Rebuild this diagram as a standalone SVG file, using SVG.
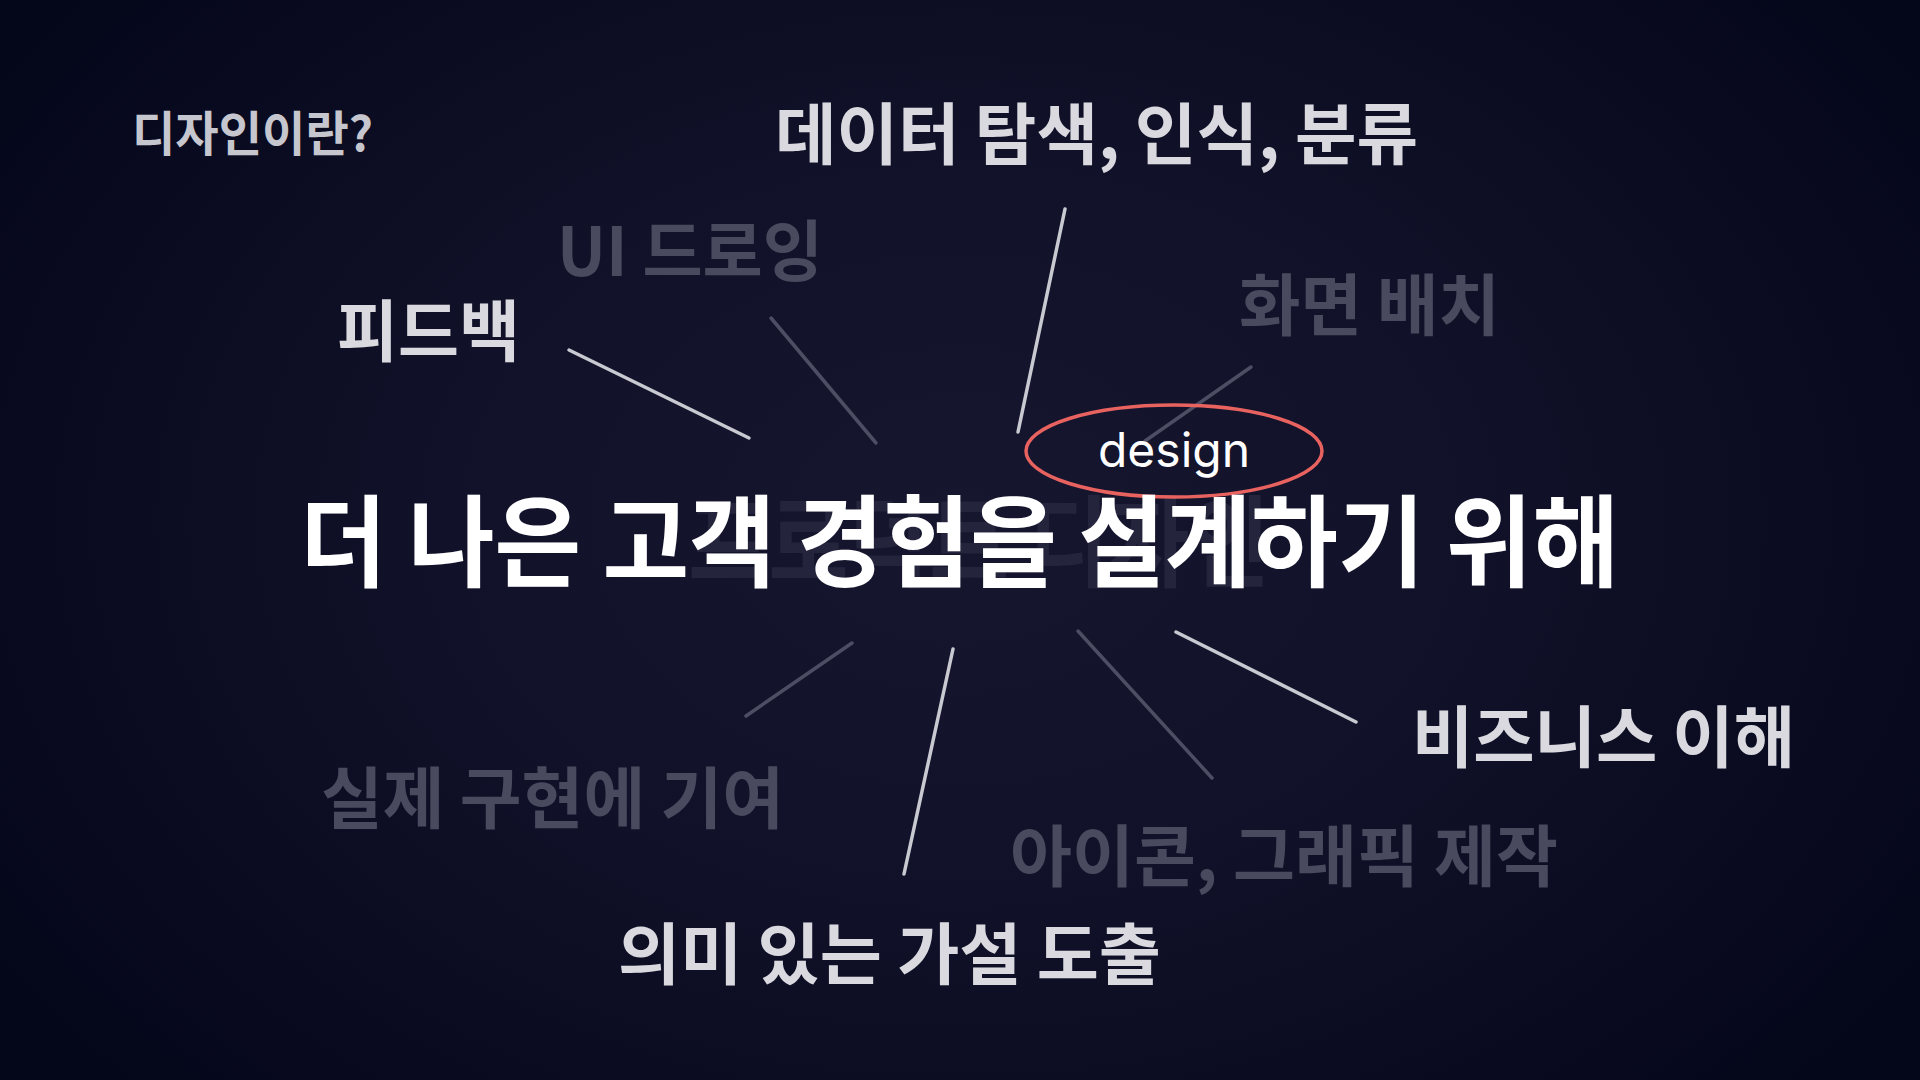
<svg xmlns="http://www.w3.org/2000/svg" width="1920" height="1080" viewBox="0 0 1920 1080">
  <defs>
    <radialGradient id="bg" cx="960" cy="520" r="1150" gradientUnits="userSpaceOnUse" gradientTransform="translate(960 520) scale(1 0.72) translate(-960 -520)">
      <stop offset="0" stop-color="#16162f"/>
      <stop offset="0.45" stop-color="#111229"/>
      <stop offset="1" stop-color="#04061a"/>
    </radialGradient>
  </defs>
  <style>
    .ko { font-family: "Noto Sans CJK KR", "Noto Sans", sans-serif; font-weight: 700; }
    .lt { fill: #d9d9df; }
    .fd { fill: #4a4a5f; }
    .ln-lt { stroke: #c9c9d1; stroke-width: 3.5; stroke-linecap: round; }
    .ln-fd { stroke: #4d4d63; stroke-width: 3.5; stroke-linecap: round; }
    .sec { font-size: 67px; }
  </style>
  <rect x="0" y="0" width="1920" height="1080" fill="url(#bg)"/>

  <g id="title">
    <text class="ko" x="132" y="151" font-size="48" fill="#c6c6ce" textLength="241" lengthAdjust="spacingAndGlyphs">디자인이란?</text>
  </g>

  <g id="ghost">
    <text class="ko" x="688" y="579" font-size="100" fill="#24243d" textLength="582" lengthAdjust="spacingAndGlyphs">프로덕트 디자인</text>
  </g>

  <g id="connectors">
    <line class="ln-lt" x1="569" y1="350" x2="749" y2="438"/>
    <line class="ln-fd" x1="771" y1="318" x2="876" y2="443"/>
    <line class="ln-lt" x1="1065" y1="209" x2="1018" y2="432"/>
    <line class="ln-fd" x1="1251" y1="367" x2="1145" y2="441"/>
    <line class="ln-fd" x1="852" y1="643" x2="746" y2="716"/>
    <line class="ln-lt" x1="953" y1="649" x2="904" y2="874"/>
    <line class="ln-fd" x1="1078" y1="631" x2="1212" y2="778"/>
    <line class="ln-lt" x1="1176" y1="632" x2="1356" y2="722"/>
  </g>

  <g id="node-data">
    <text class="ko lt sec" x="775" y="159" textLength="643" lengthAdjust="spacingAndGlyphs">데이터 탐색, 인식, 분류</text>
  </g>
  <g id="node-feedback">
    <text class="ko lt sec" x="337" y="356" textLength="183" lengthAdjust="spacingAndGlyphs">피드백</text>
  </g>
  <g id="node-ui">
    <text class="ko fd sec" x="557" y="276" textLength="266" lengthAdjust="spacingAndGlyphs">UI 드로잉</text>
  </g>
  <g id="node-layout">
    <text class="ko fd sec" x="1239" y="330" textLength="261" lengthAdjust="spacingAndGlyphs">화면 배치</text>
  </g>
  <g id="node-impl">
    <text class="ko fd sec" x="321" y="823" textLength="463" lengthAdjust="spacingAndGlyphs">실제 구현에 기여</text>
  </g>
  <g id="node-business">
    <text class="ko lt sec" x="1412" y="762" textLength="383" lengthAdjust="spacingAndGlyphs">비즈니스 이해</text>
  </g>
  <g id="node-icon">
    <text class="ko fd sec" x="1010" y="881" textLength="548" lengthAdjust="spacingAndGlyphs">아이콘, 그래픽 제작</text>
  </g>
  <g id="node-hypothesis">
    <text class="ko lt sec" x="618" y="979" textLength="543" lengthAdjust="spacingAndGlyphs">의미 있는 가설 도출</text>
  </g>

  <g id="node-design">
    <ellipse cx="1174" cy="451" rx="148" ry="46" fill="none" stroke="#e8625f" stroke-width="3.5"/>
    <text x="1174" y="467" font-family="Inter, 'Noto Sans', sans-serif" font-size="48" fill="#ffffff" text-anchor="middle">design</text>
  </g>

  <g id="node-main">
    <text class="ko" x="300" y="579" font-size="100" fill="#ffffff" textLength="1319" lengthAdjust="spacingAndGlyphs">더 나은 고객 경험을 설계하기 위해</text>
  </g>
</svg>
